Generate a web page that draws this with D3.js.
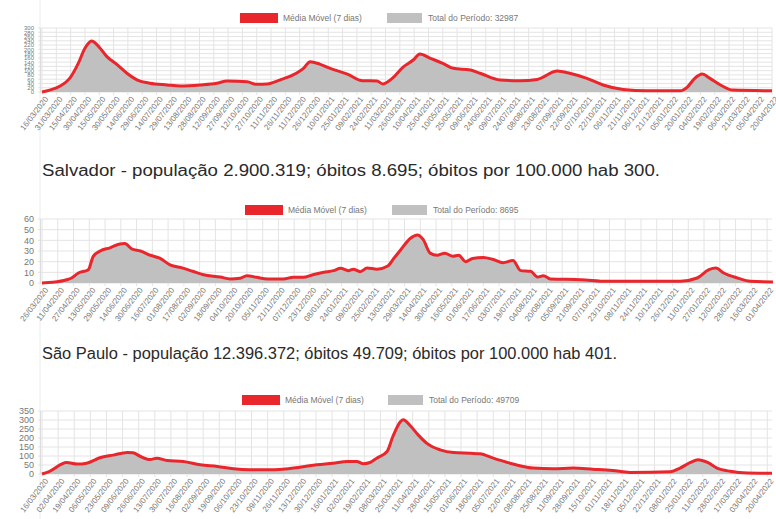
<!DOCTYPE html>
<html><head><meta charset="utf-8">
<script src="https://cdn.jsdelivr.net/npm/d3@7/dist/d3.min.js"></script>
<style>
html,body{margin:0;padding:0;background:#fff;}
svg{display:block;}
</style></head>
<body>
<svg id="c" width="776" height="519"></svg>
<script>
// ---------- DATA ----------
// Chart 1 (top)
const topStart = "2020-03-16";
const topEnd = "2022-04-20";
const topTickStep = 15;
const topTotal = "32987";
const topDays = [0,8,19,29,38,45,52,58,68,79,89,100,113,131,145,166,183,194,215,225,236,249,263,274,281,291,302,320,336,351,357,367,379,389,396,407,420,431,449,459,480,501,519,540,553,571,588,609,634,669,676,684,692,700,711,724,765];
const topValues = [0,9,28,64,134,205,239,220,166,127,88,56,41,33,28,33,41,52,48,36,38,56,80,111,142,131,111,84,53,52,38,64,119,150,178,158,134,111,103,88,56,53,59,98,88,64,33,12,6,6,22,64,84,64,33,9,6];
const topYTicks = [0,20,40,60,80,100,120,140,160,180,200,220,240,260,280,300];

// Chart 2 (Salvador)
const salvadorTitle = "Salvador - população 2.900.319; óbitos 8.695; óbitos por 100.000 hab 300.";
const salvadorStart = "2020-03-26";
const salvadorEnd = "2022-04-06";
const salvadorTickStep = 16;
const salvadorTotal = "8695";
const salvadorDays = [0,11,25,30,37,47,52,59,69,79,84,91,100,110,120,130,143,153,164,181,191,201,208,218,229,245,255,265,275,286,296,303,311,316,323,330,340,351,357,364,374,381,387,394,401,409,417,423,430,437,448,458,468,478,486,496,503,509,516,547,574,648,665,677,684,692,706,719,742];
const salvadorValues = [0,0.6,3,4.7,9.4,12.5,25,30,33,36.6,37,32,30,26,23,17,14,11,7.8,5.6,3.8,4.4,6.9,5.3,3.8,3.8,5.3,5.3,7.8,10,11.6,13.8,11.6,13,10.6,14,13,16,23,31,42,45,40.6,28,26,28,25,26,20,23,24,22,19,21,11.6,11,5.6,6.9,3.8,3.1,1.6,1.6,4.7,12.5,14,9.4,4.7,1.6,1];
const salvadorYTicks = [0,10,20,30,40,50,60];

// Chart 3 (São Paulo)
const spTitle = "São Paulo - população 12.396.372; óbitos 49.709; óbitos por 100.000 hab 401.";
const spStart = "2020-03-16";
const spEnd = "2022-04-25";
const spTickStep = 17;
const spTotal = "49709";
const spDays = [0,8,26,37,47,61,75,90,96,103,114,121,132,149,167,185,202,219,237,254,272,290,307,322,332,339,346,353,364,370,378,381,388,397,406,420,434,452,462,476,491,504,518,539,560,581,602,620,663,673,684,692,702,712,726,744,770];
const spValues = [0,15,64,55,60,90,105,120,118,100,80,88,75,70,51,42,29,24,24,27,38,51,60,70,70,57,64,88,125,207,290,302,271,216,170,134,119,115,112,88,64,46,33,29,33,27,20,9,13,33,64,79,64,33,15,5.5,4];
const spYTicks = [0,50,100,150,200,250,300,350];

// ---------- DRAW ----------
const svg = d3.select("#c");
const parse = d3.timeParse("%Y-%m-%d");
const fmt = d3.timeFormat("%d/%m/%Y");
const RED = "#e9262c", GREY = "#c0c0c0", GRID = "#e4e4e4", TXT = "#777";
const FONT = "Liberation Sans, Arial, sans-serif";

// page border line
svg.append("line").attr("x1",40).attr("x2",40).attr("y1",0).attr("y2",519)
  .attr("stroke","#ececec").attr("stroke-width",1);

function drawChart(cfg){
  const g = svg.append("g");
  const start = parse(cfg.start), end = parse(cfg.end);
  const x = d3.scaleTime().domain([start,end]).range([42,772]);
  const y = d3.scaleLinear().domain([0, d3.max(cfg.yTicks)]).range([cfg.bottom, cfg.top]);
  const ticks = d3.timeDay.range(start, d3.timeDay.offset(end,1), cfg.step);

  // gridlines
  g.append("g").selectAll("line").data(ticks).join("line")
    .attr("x1",d=>x(d)).attr("x2",d=>x(d)).attr("y1",cfg.top).attr("y2",cfg.bottom+3)
    .attr("stroke",GRID).attr("stroke-width",1);
  g.append("g").selectAll("line").data(cfg.yTicks).join("line")
    .attr("x1",38).attr("x2",772).attr("y1",d=>y(d)).attr("y2",d=>y(d))
    .attr("stroke",GRID).attr("stroke-width",1);

  // y axis
  const ya = d3.axisLeft(y).tickValues(cfg.yTicks).tickSize(0).tickPadding(6);
  const yg = g.append("g").attr("transform","translate(40,0)").call(ya);
  yg.select(".domain").attr("stroke","#ddd");
  yg.selectAll("text").attr("fill",TXT).attr("font-size",cfg.yFont).attr("font-family",FONT);

  // x axis
  const xa = d3.axisBottom(x).tickValues(ticks).tickFormat(fmt).tickSize(0).tickPadding(3);
  const xg = g.append("g").attr("transform",`translate(0,${cfg.bottom})`).call(xa);
  xg.select(".domain").remove();
  xg.selectAll("text").attr("fill",TXT).attr("font-size",8).attr("font-family",FONT)
    .attr("text-anchor","end").attr("dy","0.3em")
    .attr("transform","translate(2,4) rotate(-52)");

  const pts = cfg.days.map((dd,i)=>({d:d3.timeDay.offset(start,dd), v:cfg.values[i]}));
  const area = d3.area().x(p=>x(p.d)).y0(y(0)).y1(p=>y(p.v)).curve(d3.curveMonotoneX);
  const line = d3.line().x(p=>x(p.d)).y(p=>y(p.v)).curve(d3.curveMonotoneX);
  g.append("path").datum(pts).attr("d",area).attr("fill",GREY);
  g.append("path").datum(pts).attr("d",line).attr("fill","none").attr("stroke",RED).attr("stroke-width",3)
    .attr("stroke-linejoin","round");

  // legend
  const L = g.append("g");
  L.append("rect").attr("x",cfg.lx1).attr("y",cfg.ly-5).attr("width",38).attr("height",10).attr("fill",RED);
  L.append("text").attr("x",cfg.lx1+43).attr("y",cfg.ly+3).text("Média Móvel (7 dias)")
    .attr("font-size",8.5).attr("fill",TXT).attr("font-family",FONT);
  L.append("rect").attr("x",cfg.lx2).attr("y",cfg.ly-5).attr("width",35).attr("height",10).attr("fill",GREY);
  L.append("text").attr("x",cfg.lx2+41).attr("y",cfg.ly+3).text("Total do Período: "+cfg.total)
    .attr("font-size",8.5).attr("fill",TXT).attr("font-family",FONT);
}

drawChart({start:topStart,end:topEnd,step:topTickStep,days:topDays,values:topValues,yTicks:topYTicks,total:topTotal,
  top:28,bottom:92,yFont:6,lx1:240,lx2:387,ly:18});
drawChart({start:salvadorStart,end:salvadorEnd,step:salvadorTickStep,days:salvadorDays,values:salvadorValues,yTicks:salvadorYTicks,total:salvadorTotal,
  top:219,bottom:283,yFont:9,lx1:245,lx2:392,ly:210});
drawChart({start:spStart,end:spEnd,step:spTickStep,days:spDays,values:spValues,yTicks:spYTicks,total:spTotal,
  top:411,bottom:474,yFont:9,lx1:242,lx2:388,ly:400});

// titles
svg.append("text").attr("x",42).attr("y",176).text(salvadorTitle)
  .attr("font-size",16).attr("fill","#2a2a2a").attr("font-family",FONT)
  .attr("textLength",618).attr("lengthAdjust","spacingAndGlyphs");
svg.append("text").attr("x",42).attr("y",359).text(spTitle)
  .attr("font-size",16).attr("fill","#2a2a2a").attr("font-family",FONT)
  .attr("textLength",575).attr("lengthAdjust","spacingAndGlyphs");
</script>
</body></html>
